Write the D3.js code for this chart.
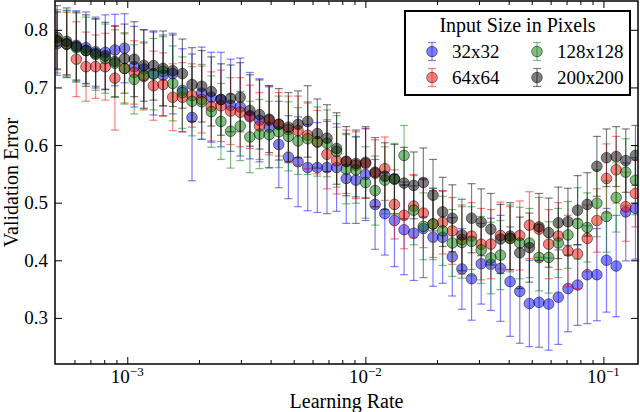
<!DOCTYPE html>
<html>
<head>
<meta charset="utf-8">
<script src="https://cdn.jsdelivr.net/npm/d3@7"></script>
<style>
  body { margin: 0; background: #fff; }
  text { font-family: "Liberation Serif", serif; fill: #000; }
</style>
</head>
<body>
<svg id="chart" width="640" height="412"></svg>
<script>
// learning rates tried (same grid for every input size)
var learningRate = [
  0.000507, 0.0005565, 0.0006109, 0.0006706, 0.0007361, 0.0008081, 0.000887, 0.0009737, 0.001069, 0.001173,
  0.001288, 0.001414, 0.001552, 0.001704, 0.00187, 0.002053, 0.002253, 0.002474, 0.002715, 0.002981,
  0.003272, 0.003592, 0.003943, 0.004328, 0.004751, 0.005215, 0.005725, 0.006284, 0.006898, 0.007572,
  0.008312, 0.009124, 0.01002, 0.01099, 0.01207, 0.01325, 0.01454, 0.01596, 0.01752, 0.01924,
  0.02112, 0.02318, 0.02544, 0.02793, 0.03066, 0.03366, 0.03694, 0.04055, 0.04452, 0.04887,
  0.05364, 0.05888, 0.06464, 0.07095, 0.07789, 0.0855, 0.09385, 0.103, 0.1131, 0.1241,
  0.1363
];

var sizeNames = ["32x32", "64x64", "128x128", "200x200"];
var sizeColors = ["#0000ff", "#ff0000", "#008000", "#000000"];

var err32Mean = [
  0.776, 0.775, 0.773, 0.769, 0.762, 0.761, 0.765, 0.768, 0.736, 0.732,
  0.724, 0.721, 0.724, 0.695, 0.648, 0.690, 0.683, 0.679, 0.669, 0.666,
  0.651, 0.643, 0.631, 0.601, 0.579, 0.571, 0.561, 0.561, 0.561, 0.561,
  0.542, 0.539, 0.549, 0.497, 0.481, 0.469, 0.453, 0.447, 0.455, 0.440,
  0.440, 0.406, 0.385, 0.368, 0.394, 0.393, 0.386, 0.363, 0.346, 0.325,
  0.327, 0.324, 0.336, 0.351, 0.357, 0.375, 0.375, 0.400, 0.390, 0.484,
  0.490
];
var err32Std = [
  0.055, 0.058, 0.060, 0.062, 0.060, 0.065, 0.062, 0.060, 0.070, 0.068,
  0.072, 0.070, 0.070, 0.072, 0.110, 0.080, 0.078, 0.082, 0.080, 0.085,
  0.075, 0.072, 0.070, 0.075, 0.072, 0.078, 0.075, 0.078, 0.080, 0.076,
  0.078, 0.075, 0.080, 0.078, 0.072, 0.080, 0.078, 0.082, 0.085, 0.085,
  0.080, 0.068, 0.070, 0.072, 0.070, 0.080, 0.092, 0.095, 0.090, 0.075,
  0.078, 0.080, 0.082, 0.075, 0.070, 0.085, 0.080, 0.090, 0.088, 0.085,
  0.088
];

var err64Mean = [
  0.781, 0.775, 0.749, 0.736, 0.736, 0.736, 0.716, 0.733, 0.726, 0.719,
  0.703, 0.705, 0.683, 0.683, 0.686, 0.679, 0.667, 0.668, 0.659, 0.657,
  0.649, 0.633, 0.643, 0.636, 0.627, 0.625, 0.617, 0.605, 0.584, 0.573,
  0.571, 0.565, 0.568, 0.551, 0.559, 0.497, 0.478, 0.494, 0.482, 0.463,
  0.466, 0.451, 0.436, 0.442, 0.428, 0.428, 0.443, 0.438, 0.443, 0.461,
  0.454, 0.428, 0.442, 0.416, 0.411, 0.438, 0.469, 0.542, 0.557, 0.493,
  0.516
];
var err64Std = [
  0.050, 0.055, 0.065, 0.060, 0.055, 0.058, 0.090, 0.060, 0.055, 0.058,
  0.060, 0.055, 0.058, 0.060, 0.055, 0.058, 0.060, 0.062, 0.058, 0.060,
  0.055, 0.058, 0.060, 0.055, 0.058, 0.060, 0.058, 0.055, 0.060, 0.058,
  0.055, 0.058, 0.060, 0.058, 0.055, 0.060, 0.058, 0.055, 0.060, 0.058,
  0.055, 0.058, 0.060, 0.058, 0.062, 0.060, 0.058, 0.055, 0.060, 0.058,
  0.055, 0.060, 0.058, 0.062, 0.060, 0.058, 0.055, 0.060, 0.058, 0.060,
  0.058
];

var err128Mean = [
  0.780, 0.776, 0.769, 0.764, 0.757, 0.750, 0.742, 0.733, 0.714, 0.721,
  0.723, 0.728, 0.707, 0.691, 0.676, 0.675, 0.658, 0.641, 0.624, 0.633,
  0.614, 0.619, 0.618, 0.623, 0.615, 0.607, 0.611, 0.606, 0.603, 0.589,
  0.558, 0.557, 0.535, 0.521, 0.539, 0.541, 0.582, 0.487, 0.459, 0.463,
  0.451, 0.430, 0.431, 0.433, 0.418, 0.404, 0.409, 0.438, 0.430, 0.430,
  0.405, 0.405, 0.430, 0.444, 0.464, 0.457, 0.499, 0.476, 0.509, 0.553,
  0.539
];
var err128Std = [
  0.055, 0.058, 0.060, 0.058, 0.062, 0.060, 0.058, 0.062, 0.060, 0.058,
  0.062, 0.060, 0.065, 0.062, 0.060, 0.065, 0.062, 0.066, 0.064, 0.060,
  0.062, 0.060, 0.058, 0.062, 0.060, 0.058, 0.062, 0.060, 0.058, 0.062,
  0.060, 0.058, 0.062, 0.060, 0.058, 0.062, 0.052, 0.060, 0.058, 0.062,
  0.060, 0.058, 0.062, 0.060, 0.058, 0.062, 0.060, 0.058, 0.062, 0.060,
  0.058, 0.062, 0.060, 0.058, 0.062, 0.060, 0.058, 0.062, 0.060, 0.058,
  0.060
];

var err200Mean = [
  0.787, 0.780, 0.771, 0.764, 0.759, 0.755, 0.745, 0.750, 0.749, 0.738,
  0.738, 0.733, 0.729, 0.724, 0.705, 0.702, 0.693, 0.679, 0.681, 0.683,
  0.660, 0.653, 0.645, 0.636, 0.631, 0.636, 0.641, 0.620, 0.612, 0.594,
  0.572, 0.568, 0.570, 0.553, 0.546, 0.541, 0.534, 0.530, 0.535, 0.513,
  0.484, 0.473, 0.444, 0.473, 0.466, 0.454, 0.437, 0.442, 0.413, 0.422,
  0.458, 0.448, 0.465, 0.467, 0.487, 0.497, 0.563, 0.578, 0.580, 0.573,
  0.582
];
var err200Std = [
  0.055, 0.058, 0.060, 0.062, 0.060, 0.058, 0.062, 0.060, 0.065, 0.062,
  0.060, 0.065, 0.062, 0.060, 0.064, 0.062, 0.060, 0.062, 0.058, 0.060,
  0.062, 0.060, 0.058, 0.062, 0.060, 0.058, 0.062, 0.060, 0.058, 0.062,
  0.060, 0.058, 0.062, 0.060, 0.058, 0.060, 0.062, 0.058, 0.060, 0.062,
  0.060, 0.058, 0.062, 0.060, 0.058, 0.062, 0.060, 0.058, 0.062, 0.060,
  0.058, 0.060, 0.062, 0.058, 0.060, 0.055, 0.052, 0.050, 0.052, 0.055,
  0.052
];

var yTicks = [0.3, 0.4, 0.5, 0.6, 0.7, 0.8];
var xMajor = [1e-3, 1e-2, 1e-1];
var xMajorExp = ["\u22123", "\u22122", "\u22121"];
var xMinor = [6e-4, 7e-4, 8e-4, 9e-4,
  2e-3, 3e-3, 4e-3, 5e-3, 6e-3, 7e-3, 8e-3, 9e-3,
  2e-2, 3e-2, 4e-2, 5e-2, 6e-2, 7e-2, 8e-2, 9e-2];

var series = [
  {name: sizeNames[0], color: sizeColors[0], mean: err32Mean, std: err32Std},
  {name: sizeNames[1], color: sizeColors[1], mean: err64Mean, std: err64Std},
  {name: sizeNames[2], color: sizeColors[2], mean: err128Mean, std: err128Std},
  {name: sizeNames[3], color: sizeColors[3], mean: err200Mean, std: err200Std}
];

var plotL = 55, plotR = 638, plotT = 1, plotB = 364;
var fontSize = 19;
var capW = 4, dotR = 5.3, barW = 1.2;

var svg = d3.select("#chart");

var x = d3.scaleLog().domain([4.97e-4, 0.1397]).range([plotL, plotR]);
var y = d3.scaleLinear().domain([0.22, 0.85]).range([plotB, plotT]);

svg.append("defs").append("clipPath").attr("id", "plotclip")
  .append("rect")
  .attr("x", plotL).attr("y", plotT)
  .attr("width", plotR - plotL).attr("height", plotB - plotT);

var plot = svg.append("g").attr("clip-path", "url(#plotclip)");

// one errorbar call per input size, drawn in order
series.forEach(function(s) {
  var pts = learningRate.map(function(lr, i) { return {lr: lr, m: s.mean[i], e: s.std[i]}; });
  var g = plot.append("g");

  g.selectAll("line.bar").data(pts).enter().append("line")
    .attr("class", "bar")
    .attr("x1", function(d) { return x(d.lr); })
    .attr("x2", function(d) { return x(d.lr); })
    .attr("y1", function(d) { return y(d.m - d.e); })
    .attr("y2", function(d) { return y(d.m + d.e); })
    .attr("stroke", s.color).attr("stroke-opacity", 0.5).attr("stroke-width", barW);

  [-1, 1].forEach(function(sign) {
    g.selectAll("line.cap" + (sign > 0 ? "hi" : "lo")).data(pts).enter().append("line")
      .attr("class", "cap" + (sign > 0 ? "hi" : "lo"))
      .attr("x1", function(d) { return x(d.lr) - capW; })
      .attr("x2", function(d) { return x(d.lr) + capW; })
      .attr("y1", function(d) { return y(d.m + sign * d.e); })
      .attr("y2", function(d) { return y(d.m + sign * d.e); })
      .attr("stroke", s.color).attr("stroke-opacity", 0.5).attr("stroke-width", barW);
  });

  g.selectAll("circle").data(pts).enter().append("circle")
    .attr("cx", function(d) { return x(d.lr); })
    .attr("cy", function(d) { return y(d.m); })
    .attr("r", dotR)
    .attr("fill", s.color).attr("fill-opacity", 0.5)
    .attr("stroke", "#000").attr("stroke-opacity", 0.5).attr("stroke-width", 1);
});

// axes: inward ticks on all four sides
function noDomain(g) { g.select(".domain").remove(); g.selectAll("line").attr("stroke", "#000"); }

svg.append("g").attr("transform", "translate(0," + plotB + ")")
  .call(d3.axisBottom(x).tickValues(xMajor).tickSizeInner(-7).tickSizeOuter(0).tickFormat(""))
  .call(noDomain);
svg.append("g").attr("transform", "translate(0," + plotB + ")")
  .call(d3.axisBottom(x).tickValues(xMinor).tickSizeInner(-4).tickSizeOuter(0).tickFormat(""))
  .call(noDomain);
svg.append("g").attr("transform", "translate(0," + plotT + ")")
  .call(d3.axisTop(x).tickValues(xMajor).tickSizeInner(-7).tickSizeOuter(0).tickFormat(""))
  .call(noDomain);
svg.append("g").attr("transform", "translate(0," + plotT + ")")
  .call(d3.axisTop(x).tickValues(xMinor).tickSizeInner(-4).tickSizeOuter(0).tickFormat(""))
  .call(noDomain);

svg.append("g").attr("transform", "translate(" + plotL + ",0)")
  .call(d3.axisLeft(y).tickValues(yTicks).tickSizeInner(-7).tickSizeOuter(0).tickPadding(7).tickFormat(d3.format(".1f")))
  .call(noDomain)
  .call(function(g) {
    g.selectAll("text").attr("font-family", "Liberation Serif, serif").attr("font-size", fontSize);
  });
svg.append("g").attr("transform", "translate(" + plotR + ",0)")
  .call(d3.axisRight(y).tickValues(yTicks).tickSizeInner(-7).tickSizeOuter(0).tickFormat(""))
  .call(noDomain);

// 10^n labels
xMajor.forEach(function(v, i) {
  var t = svg.append("text")
    .attr("x", x(v)).attr("y", plotB + 19)
    .attr("text-anchor", "middle")
    .attr("font-size", fontSize);
  t.append("tspan").text("10");
  t.append("tspan").attr("dy", -7).attr("font-size", 13).text(xMajorExp[i]);
});

svg.append("rect")
  .attr("x", plotL).attr("y", plotT)
  .attr("width", plotR - plotL).attr("height", plotB - plotT)
  .attr("fill", "none").attr("stroke", "#000").attr("stroke-width", 1.5);

svg.append("text")
  .attr("x", (plotL + plotR) / 2).attr("y", 408)
  .attr("text-anchor", "middle").attr("font-size", 20)
  .text("Learning Rate");

svg.append("text")
  .attr("transform", "translate(18," + ((plotT + plotB) / 2) + ") rotate(-90)")
  .attr("text-anchor", "middle").attr("font-size", 20)
  .text("Validation Error");

// legend, two columns
var legend = svg.append("g");
legend.append("rect")
  .attr("x", 405).attr("y", 11).attr("width", 225).attr("height", 84)
  .attr("fill", "#fff").attr("stroke", "#000").attr("stroke-width", 2);
legend.append("text")
  .attr("x", 517.5).attr("y", 32)
  .attr("text-anchor", "middle").attr("font-size", 20)
  .text("Input Size in Pixels");

var legendCols = [432, 537];
var legendRows = [51.5, 77.5];
series.forEach(function(s, i) {
  var cx = legendCols[Math.floor(i / 2)], cy = legendRows[i % 2];
  var g = legend.append("g");
  g.append("line").attr("x1", cx).attr("x2", cx).attr("y1", cy - 9).attr("y2", cy + 9)
    .attr("stroke", s.color).attr("stroke-opacity", 0.5).attr("stroke-width", barW);
  [-9, 9].forEach(function(dy) {
    g.append("line").attr("x1", cx - capW).attr("x2", cx + capW).attr("y1", cy + dy).attr("y2", cy + dy)
      .attr("stroke", s.color).attr("stroke-opacity", 0.5).attr("stroke-width", barW);
  });
  g.append("circle").attr("cx", cx).attr("cy", cy).attr("r", dotR)
    .attr("fill", s.color).attr("fill-opacity", 0.5)
    .attr("stroke", "#000").attr("stroke-opacity", 0.5).attr("stroke-width", 1);
  g.append("text").attr("x", cx + 20).attr("y", cy + 6.5)
    .attr("font-size", fontSize).text(s.name);
});
</script>
</body>
</html>
